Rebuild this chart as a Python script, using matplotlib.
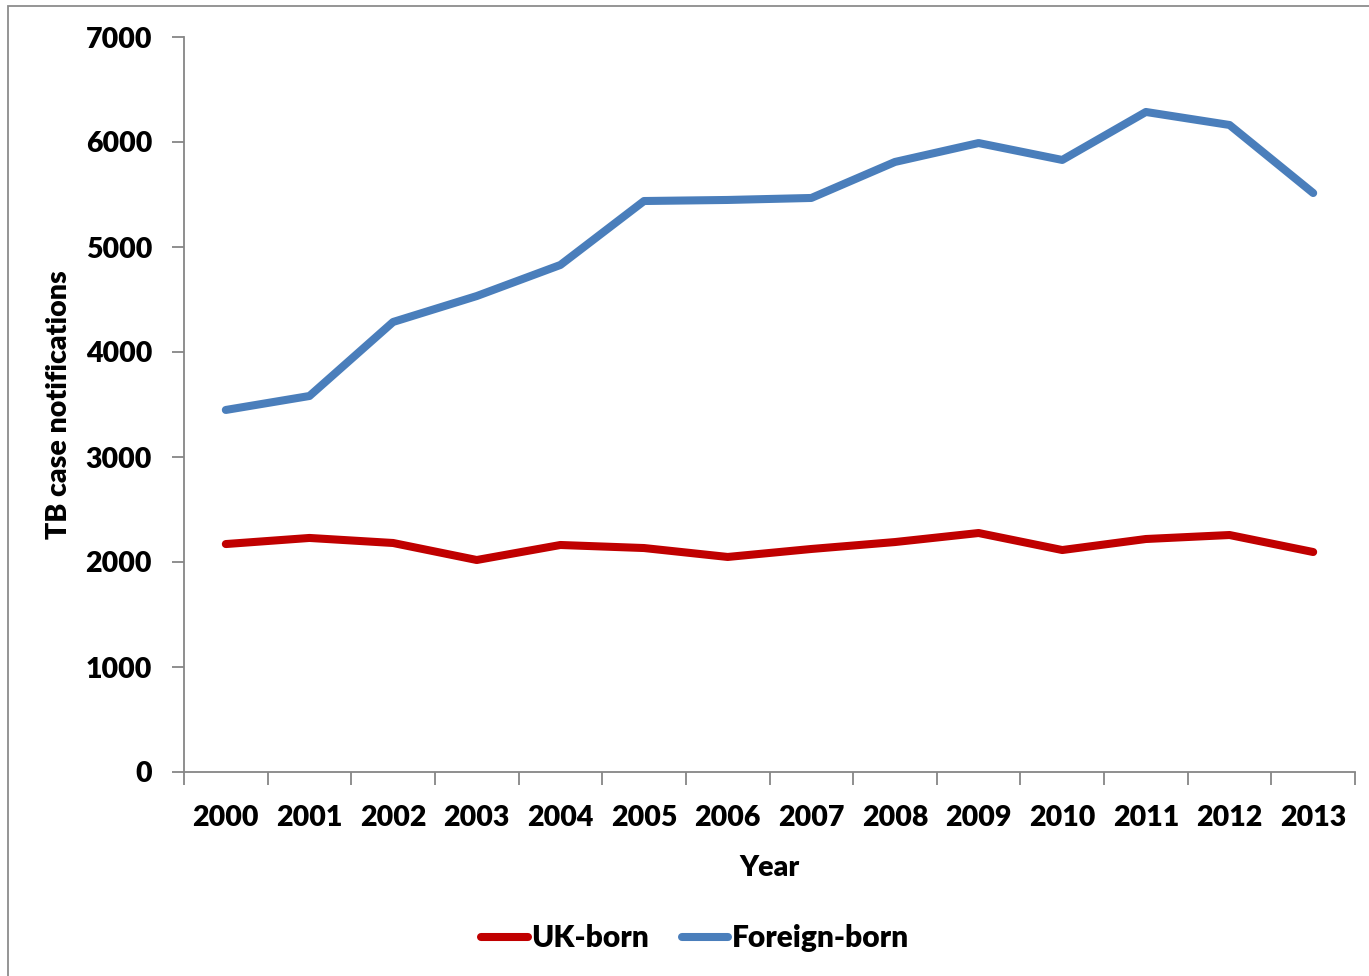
import numpy as np
import matplotlib.pyplot as plt
from matplotlib.patches import Rectangle

plt.rcParams['font.family'] = ['Lato', 'DejaVu Sans']
plt.rcParams['font.weight'] = 'heavy'

years = ['2000', '2001', '2002', '2003', '2004', '2005', '2006',
         '2007', '2008', '2009', '2010', '2011', '2012', '2013']
uk_born = [2171, 2229, 2181, 2019, 2162, 2133, 2048,
           2124, 2190, 2276, 2114, 2219, 2257, 2095]
foreign_born = [3448, 3581, 4286, 4533, 4829, 5438, 5448,
                5467, 5810, 5990, 5829, 6286, 6162, 5514]

fs = 20.5
fig = plt.figure(figsize=(13.69, 9.76), dpi=100)
ax = fig.add_axes([184 / 1369, 1 - 772 / 976, (1355 - 184) / 1369, (772 - 37) / 976])

x = np.arange(len(years))
ax.plot(x, uk_born, color='#C00000', lw=5.8, solid_capstyle='round',
        solid_joinstyle='round', label='UK-born')
ax.plot(x, foreign_born, color='#4A7EBB', lw=5.8, solid_capstyle='round',
        solid_joinstyle='round', label='Foreign-born')

ax.set_xlim(-0.5, len(years) - 0.5)
ax.set_ylim(0, 7000)
ax.set_yticks(np.arange(0, 7001, 1000))
ax.set_xticks(x)
ax.set_xticklabels(years)
ax.set_xticks(np.arange(-0.5, len(years)), minor=True)

grey = '#868686'
for side in ['top', 'right']:
    ax.spines[side].set_visible(False)
for side in ['left', 'bottom']:
    ax.spines[side].set_color(grey)
    ax.spines[side].set_linewidth(1.3)

ax.tick_params(axis='y', direction='out', length=9, width=1.3, color=grey,
               labelsize=fs, pad=14)
ax.tick_params(axis='x', which='major', length=0, labelsize=fs, pad=24)
ax.tick_params(axis='x', which='minor', direction='out', length=9,
               width=1.3, color=grey)
for lab in ax.get_xticklabels() + ax.get_yticklabels():
    lab.set_fontweight('heavy')

ax.set_xlabel('Year', fontsize=fs, fontweight='heavy', labelpad=17)
ax.set_ylabel('TB case notifications', fontsize=fs, fontweight='heavy', labelpad=10)

leg = fig.legend(loc='center', bbox_to_anchor=(695 / 1369, 1 - 938 / 976),
                 ncol=2, frameon=False, fontsize=21.5, handlelength=1.55,
                 handletextpad=0.12, columnspacing=1.1)
for t in leg.get_texts():
    t.set_fontweight('heavy')

# outer chart frame
fig.patches.append(Rectangle((8 / 1369, -0.05), 1.2, 1 - 6 / 976 + 0.05,
                             transform=fig.transFigure, fill=False,
                             edgecolor='#8c8c8c', lw=1.3))

fig.savefig('out.png', dpi=100)
